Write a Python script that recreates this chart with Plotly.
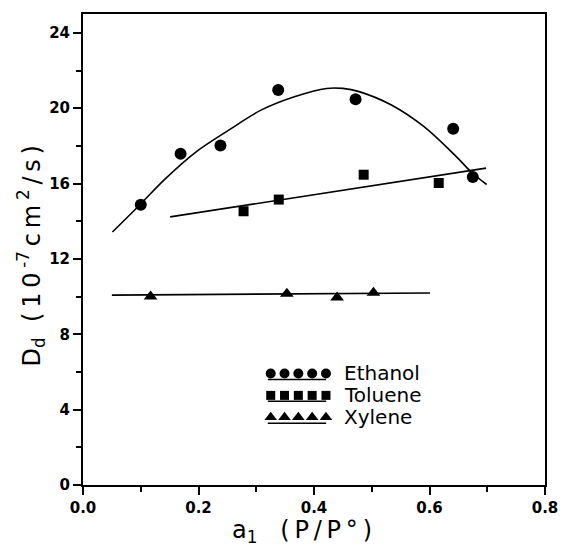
import plotly.graph_objects as go

# Measured points: dispersion coefficient D_d (1e-7 cm^2/s) vs activity a1
ethanol_a = [0.100, 0.169, 0.238, 0.338, 0.472, 0.641, 0.675]
ethanol_d = [14.87, 17.58, 18.02, 20.97, 20.47, 18.91, 16.35]

toluene_a = [0.278, 0.339, 0.486, 0.616]
toluene_d = [14.53, 15.15, 16.47, 16.03]

xylene_a = [0.117, 0.353, 0.440, 0.503]
xylene_d = [10.0, 10.15, 9.95, 10.2]

# Fitted curves
ethanol_fit_a = [0.051, 0.099, 0.141, 0.197, 0.253, 0.309, 0.366, 0.422, 0.450,
                 0.478, 0.534, 0.590, 0.646, 0.674, 0.699]
ethanol_fit_d = [13.43, 14.89, 16.21, 17.71, 18.85, 19.91, 20.61, 21.05, 21.05,
                 20.88, 20.17, 19.03, 17.44, 16.56, 15.95]
toluene_fit_a = [0.151, 0.698]
toluene_fit_d = [14.23, 16.82]
xylene_fit_a = [0.050, 0.601]
xylene_fit_d = [10.08, 10.19]

series_names = ["Ethanol", "Toluene", "Xylene"]
series_symbols = ["circle", "square", "triangle-up"]

x_range = [0.0, 0.8]
y_range = [0.0, 25.0]

FONT = "DejaVu Sans"
TS = "\u2009"  # thin space, widens the letter spacing of the titles
NB = "\u00a0"
fig = go.Figure()

line_style = dict(color="black", width=1.6)
for fa, fd, shape in [(ethanol_fit_a, ethanol_fit_d, "spline"),
                      (toluene_fit_a, toluene_fit_d, "linear"),
                      (xylene_fit_a, xylene_fit_d, "linear")]:
    fig.add_trace(go.Scatter(x=fa, y=fd, mode="lines",
                             line=dict(shape=shape, smoothing=0.9, **line_style),
                             showlegend=False, hoverinfo="skip"))

marker_sizes = [12, 10, 12]
for (a, d), sym, ms in zip([(ethanol_a, ethanol_d), (toluene_a, toluene_d),
                            (xylene_a, xylene_d)], series_symbols, marker_sizes):
    fig.add_trace(go.Scatter(x=a, y=d, mode="markers",
                             marker=dict(symbol=sym, size=ms, color="black"),
                             showlegend=False))

# Hand-drawn key: five symbols over an underline, with the series name
plot_l, plot_r, plot_t, plot_b = 83, 558, 12, 485
def px_to_data(px, py):
    x = x_range[0] + (px - plot_l) / (plot_r - plot_l) * (x_range[1] - x_range[0])
    y = y_range[0] + (plot_b - py) / (plot_b - plot_t) * (y_range[1] - y_range[0])
    return x, y

key_x0, key_dx = 276, 14.2
key_rows = [373, 395, 417]
key_sizes = [10, 9, 11]
shapes = []
annotations = []
for name, sym, row, ks in zip(series_names, series_symbols, key_rows, key_sizes):
    xs, ys = [], []
    for i in range(5):
        x, y = px_to_data(key_x0 + i * key_dx, row)
        xs.append(x)
        ys.append(y)
    fig.add_trace(go.Scatter(x=xs, y=ys, mode="markers",
                             marker=dict(symbol=sym, size=ks, color="black"),
                             showlegend=False, hoverinfo="skip"))
    ux0, uy = px_to_data(273, row + 6)
    ux1, _ = px_to_data(333, row + 6)
    shapes.append(dict(type="line", xref="x", yref="y", x0=ux0, x1=ux1, y0=uy, y1=uy,
                       line=dict(color="black", width=1.5)))
    tx, ty = px_to_data(349, row)
    annotations.append(dict(x=tx, y=ty, xref="x", yref="y", text=name,
                            showarrow=False, xanchor="left", yanchor="middle",
                            font=dict(family=FONT, size=20, color="black")))

# Axis titles
x_title = ("a<sub>1</sub>" + NB * 3 + "(" + TS + "P" + TS + "/" + TS + "P" + TS + "°" + TS + ")")
y_title = ("D<sub>d</sub>" + NB * 2 + "(" + TS + "1" + TS + "0" + TS + "<sup>-7</sup>" + TS
           + "c" + TS + "m" + TS + "<sup>2</sup>" + TS + "/" + TS + "s" + TS + ")")
annotations.append(dict(x=(308 - plot_l) / (plot_r - plot_l),
                        y=(plot_b - 532) / (plot_b - plot_t),
                        xref="paper", yref="paper", text=x_title,
                        showarrow=False, xanchor="center", yanchor="middle",
                        font=dict(family=FONT, size=24, color="black")))
annotations.append(dict(x=(30 - plot_l) / (plot_r - plot_l),
                        y=(plot_b - 255) / (plot_b - plot_t),
                        xref="paper", yref="paper", textangle=-90, text=y_title,
                        showarrow=False, xanchor="center", yanchor="middle",
                        font=dict(family=FONT, size=24, color="black")))

axis_common = dict(showline=True, linecolor="black", linewidth=2, mirror=True,
                   showgrid=False, zeroline=False, ticks="outside",
                   tickcolor="black", tickwidth=1.5, ticklen=8,
                   tickfont=dict(family=FONT, size=15, color="black", weight="bold"))

fig.update_layout(
    width=570, height=548,
    margin=dict(l=plot_l, r=570 - plot_r, t=plot_t, b=548 - plot_b),
    plot_bgcolor="white", paper_bgcolor="white",
    showlegend=False,
    xaxis=dict(range=x_range, tickvals=[0.0, 0.2, 0.4, 0.6, 0.8], tickformat=".1f",
               minor=dict(tickvals=[0.1, 0.3, 0.5, 0.7], ticklen=5, tickwidth=1.5,
                          tickcolor="black", ticks="outside"),
               **axis_common),
    yaxis=dict(range=y_range, tickvals=[0, 4, 8, 12, 16, 20, 24],
               minor=dict(tickvals=[2, 6, 10, 14, 18, 22], ticklen=5, tickwidth=1.5,
                          tickcolor="black", ticks="outside"),
               **axis_common),
    shapes=shapes,
    annotations=annotations,
)

fig.write_html("out.html")
